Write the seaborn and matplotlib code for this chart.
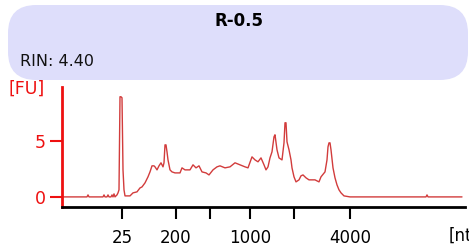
import matplotlib
matplotlib.use("Agg")
import matplotlib.pyplot as plt
from matplotlib.patches import FancyBboxPatch
import seaborn as sns
import pandas as pd

# Migration time (s) and fluorescence (FU)
time_s = [20.0, 23.125, 23.25, 23.375, 25.125, 25.25, 25.375, 25.625, 25.75, 25.875,
          26.125, 26.25, 26.375, 26.5, 26.625, 26.875, 27.0, 27.125, 27.25, 27.375,
          27.5, 27.625, 27.75, 27.875, 28.125, 28.5, 28.875, 29.375, 29.75, 30.0,
          30.375, 30.75, 31.0, 31.25, 31.5, 31.625, 31.875, 32.125, 32.375, 32.625,
          32.75, 32.875, 33.0, 33.125, 33.25, 33.5, 33.75, 34.125, 34.75, 35.0,
          35.375, 36.0, 36.375, 36.75, 37.125, 37.5, 38.0, 38.375, 38.875, 39.375,
          39.75, 40.375, 41.0, 41.625, 42.25, 42.875, 43.25, 43.75, 44.125, 44.5,
          44.875, 45.25, 45.5, 45.75, 46.0, 46.25, 46.5, 46.625, 46.875, 47.125,
          47.5, 47.75, 47.875, 48.0, 48.125, 48.375, 48.625, 48.75, 49.0, 49.25,
          49.625, 49.875, 50.125, 50.5, 50.875, 51.625, 52.125, 52.375, 52.875, 53.125,
          53.25, 53.375, 53.5, 53.625, 53.875, 54.125, 54.375, 54.625, 54.875, 55.25,
          56.0, 65.5, 65.625, 65.75, 70.0]
fu = [0.0, 0.0, 0.18, 0.0, 0.0, 0.18, 0.0, 0.0, 0.18, 0.0,
      0.0, 0.18, 0.0, 0.27, 0.0, 0.18, 0.36, 0.63, 8.93, 8.93,
      8.84, 2.41, 0.63, 0.09, 0.09, 0.09, 0.36, 0.45, 0.80, 0.89,
      1.25, 1.79, 2.23, 2.77, 2.77, 2.68, 2.41, 2.77, 3.04, 2.68,
      3.04, 4.64, 4.64, 4.02, 3.30, 2.41, 2.23, 2.14, 2.14, 2.59,
      2.41, 2.41, 2.86, 2.59, 2.77, 2.23, 2.14, 1.96, 2.41, 2.68,
      2.77, 2.59, 2.68, 3.04, 2.86, 2.68, 2.59, 3.57, 3.30, 3.13,
      3.48, 2.86, 2.41, 2.68, 3.48, 4.02, 5.36, 5.54, 4.20, 3.48,
      3.30, 4.82, 6.61, 6.61, 4.91, 4.20, 3.30, 2.59, 1.79, 1.34,
      1.52, 1.88, 1.96, 1.70, 1.52, 1.52, 1.34, 1.79, 2.23, 3.30,
      4.46, 4.82, 4.82, 4.20, 2.59, 1.70, 1.07, 0.63, 0.36, 0.09,
      0.0, 0.0, 0.18, 0.0, 0.0]

ladder_times = [27.54, 34.21, 38.5, 43.5, 49.0, 56.0]
ladder_labels = ["25", "200", "", "1000", "", "4000"]
y_ticks = [0, 5]

title = "R-0.5"
rin_text = "RIN: 4.40"

sns.set_style("white")
plt.rcParams["font.family"] = ["DejaVu Sans"]

W, H = 469, 247
fig = plt.figure(figsize=(W / 100, H / 100), dpi=100)

# header box
box = FancyBboxPatch((8 / W, (H - 80) / H), (468 - 8) / W, 75 / H,
                     boxstyle="round,pad=0,rounding_size=0.06",
                     transform=fig.transFigure, facecolor="#dedefb",
                     edgecolor="none", mutation_aspect=W / H)
fig.patches.append(box)
fig.text(239 / W, 1 - 21 / H, title, ha="center", va="center",
         fontsize=12, fontweight="bold", color="black")
fig.text(20 / W, 1 - 62 / H, rin_text, ha="left", va="center",
         fontsize=11.5, color="#111111")

ax = fig.add_axes([62 / W, 40 / H, (465 - 62) / W, 120 / H])
df = pd.DataFrame({"time": time_s, "FU": fu})
sns.lineplot(data=df, x="time", y="FU", ax=ax, color="#d23c3c",
             linewidth=1.0, estimator=None, sort=False)
ax.set_xlim(20, 70.375)
ax.set_ylim(-0.9, 9.8)
ax.set_xlabel("")
ax.set_ylabel("")
for s in ["top", "right"]:
    ax.spines[s].set_visible(False)
ax.spines["left"].set_color("#ee1010")
ax.spines["left"].set_linewidth(2)
ax.spines["bottom"].set_color("black")
ax.spines["bottom"].set_linewidth(2)
ax.set_yticks(y_ticks)
ax.set_yticklabels([str(v) for v in y_ticks])
ax.set_xticks(ladder_times)
ax.set_xticklabels(ladder_labels)
ax.tick_params(axis="y", colors="#ee1010", length=8.5, width=1.5,
               labelsize=12.5, pad=3, left=True)
ax.tick_params(axis="x", colors="black", length=8.5, width=1.5,
               labelsize=12, pad=7, bottom=True)
ax.set_facecolor("none")
ax.grid(False)

fig.text(8 / W, 1 - 89 / H, "[FU]", ha="left", va="center",
         fontsize=12.5, color="#ee1010")
# the unit label runs off the right edge in the reference, as here
fig.text(449 / W, 1 - 236 / H, "[nt]", ha="left", va="center",
         fontsize=12, color="black")

fig.savefig("out.png", dpi=100, facecolor="white")
